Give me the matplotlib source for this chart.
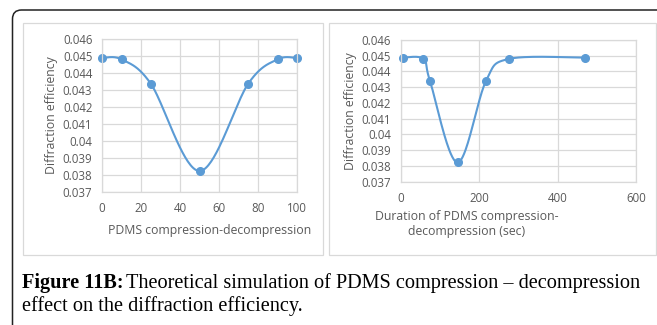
import matplotlib
matplotlib.use("Agg")
import matplotlib.pyplot as plt
import numpy as np
from matplotlib.patches import FancyBboxPatch, Rectangle

# data
pct = [0, 10, 25, 50, 75, 90, 100]
pct_eff = [0.04488, 0.04480, 0.04337, 0.03822, 0.04337, 0.04480, 0.04488]
dur = [5, 58, 75, 145, 217, 276, 470]
dur_eff = [0.04488, 0.04480, 0.04337, 0.03822, 0.04337, 0.04480, 0.04488]
yticks = [0.037, 0.038, 0.039, 0.04, 0.041, 0.042, 0.043, 0.044, 0.045, 0.046]
ytick_labels = ["0.037", "0.038", "0.039", "0.04", "0.041", "0.042", "0.043", "0.044", "0.045", "0.046"]

blue = "#5b9bd5"
grid = "#d9d9d9"
txt = "#595959"
plt.rcParams["font.family"] = ["Open Sans", "DejaVu Sans"]


def smooth(ax, x, y, xr, yr):
    # Excel-like smoothed line: Catmull-Rom bezier in axes-normalised space
    w = ax.get_position().width * 6.57
    h = ax.get_position().height * 3.25
    px = (np.array(x) - xr[0]) / (xr[1] - xr[0]) * w
    py = (np.array(y) - yr[0]) / (yr[1] - yr[0]) * h
    P = np.column_stack([px, py])
    out = []
    t = np.linspace(0, 1, 40)[:, None]
    for i in range(len(P) - 1):
        p0 = P[max(i - 1, 0)]
        p1 = P[i]
        p2 = P[i + 1]
        p3 = P[min(i + 2, len(P) - 1)]
        c1 = p1 + (p2 - p0) / 6
        c2 = p2 - (p3 - p1) / 6
        seg = (1 - t) ** 3 * p1 + 3 * (1 - t) ** 2 * t * c1 + 3 * (1 - t) * t ** 2 * c2 + t ** 3 * p2
        out.append(seg)
    out = np.vstack(out)
    sx = out[:, 0] / w * (xr[1] - xr[0]) + xr[0]
    sy = out[:, 1] / h * (yr[1] - yr[0]) + yr[0]
    return sx, sy


def style(ax, xr, xticks):
    ax.set_xlim(*xr)
    ax.set_ylim(0.037, 0.046)
    ax.set_xticks(xticks)
    ax.set_yticks(yticks)
    ax.set_yticklabels(ytick_labels)
    ax.grid(True, color=grid, linewidth=0.9)
    ax.set_axisbelow(True)
    for s in ax.spines.values():
        s.set_color(grid)
        s.set_linewidth(0.9)
    ax.tick_params(length=0, labelsize=8.3, labelcolor=txt)
    ax.tick_params(axis="y", pad=7)
    ax.tick_params(axis="x", pad=7.5)


fig = plt.figure(figsize=(6.57, 3.25), dpi=100)

# outer rounded frame and the two chart boxes
fig.patches.append(FancyBboxPatch((0.125, -0.5), 7.0, 3.65, boxstyle="round,pad=0,rounding_size=0.09",
                                  transform=fig.dpi_scale_trans, fill=False, edgecolor="#222222", linewidth=1.1))
fig.patches.append(Rectangle((0.23, 0.70), 3.0, 2.32, transform=fig.dpi_scale_trans,
                             fill=False, edgecolor=grid, linewidth=0.9))
fig.patches.append(Rectangle((3.29, 0.70), 3.27, 2.32, transform=fig.dpi_scale_trans,
                             fill=False, edgecolor=grid, linewidth=0.9))

ax1 = fig.add_axes([102 / 657, 1 - 191.7 / 325, 195 / 657, 152.7 / 325])
style(ax1, (0, 100), [0, 20, 40, 60, 80, 100])
sx, sy = smooth(ax1, pct, pct_eff, (0, 100), (0.037, 0.046))
ax1.plot(sx, sy, color=blue, linewidth=1.5, clip_on=False)
ax1.plot(pct, pct_eff, "o", color=blue, markersize=5.5, clip_on=False)
ax1.set_ylabel("Diffraction efficiency", fontsize=8.8, color=txt)
ax1.yaxis.set_label_coords(-0.225, 0.5)
ax1.text(210 / 657, 1 - 230.7 / 325, "PDMS compression-decompression", transform=fig.transFigure,
         ha="center", va="center", fontsize=8.8, color=txt)

ax2 = fig.add_axes([400.7 / 657, 1 - 181.7 / 325, 235.3 / 657, 141.7 / 325])
style(ax2, (0, 600), [0, 200, 400, 600])
sx, sy = smooth(ax2, dur, dur_eff, (0, 600), (0.037, 0.046))
ax2.plot(sx, sy, color=blue, linewidth=1.5, clip_on=False)
ax2.plot(dur, dur_eff, "o", color=blue, markersize=5.5, clip_on=False)
ax2.set_ylabel("Diffraction efficiency", fontsize=8.8, color=txt)
ax2.yaxis.set_label_coords(-0.185, 0.5)
ax2.text(467 / 657, 1 - 224 / 325, "Duration of PDMS compression-\ndecompression (sec)", transform=fig.transFigure,
         ha="center", va="center", fontsize=8.8, color=txt, linespacing=1.2)

# caption
cap_size = 14.6
bold = fig.text(0.22 / 6.57, 0.37 / 3.25, "Figure 11B:", fontsize=cap_size, fontweight="bold",
                family="Liberation Serif", va="baseline")
fig.canvas.draw()
bb = bold.get_window_extent()
fig.text(bb.x1 / 657 + 3 / 657, 0.37 / 3.25, "Theoretical simulation of PDMS compression \u2013 decompression",
         fontsize=cap_size, family="Liberation Serif", va="baseline")
fig.text(0.22 / 6.57, 0.14 / 3.25, "effect on the diffraction efficiency.", fontsize=cap_size,
         family="Liberation Serif", va="baseline")

fig.savefig("out.png", dpi=100)
